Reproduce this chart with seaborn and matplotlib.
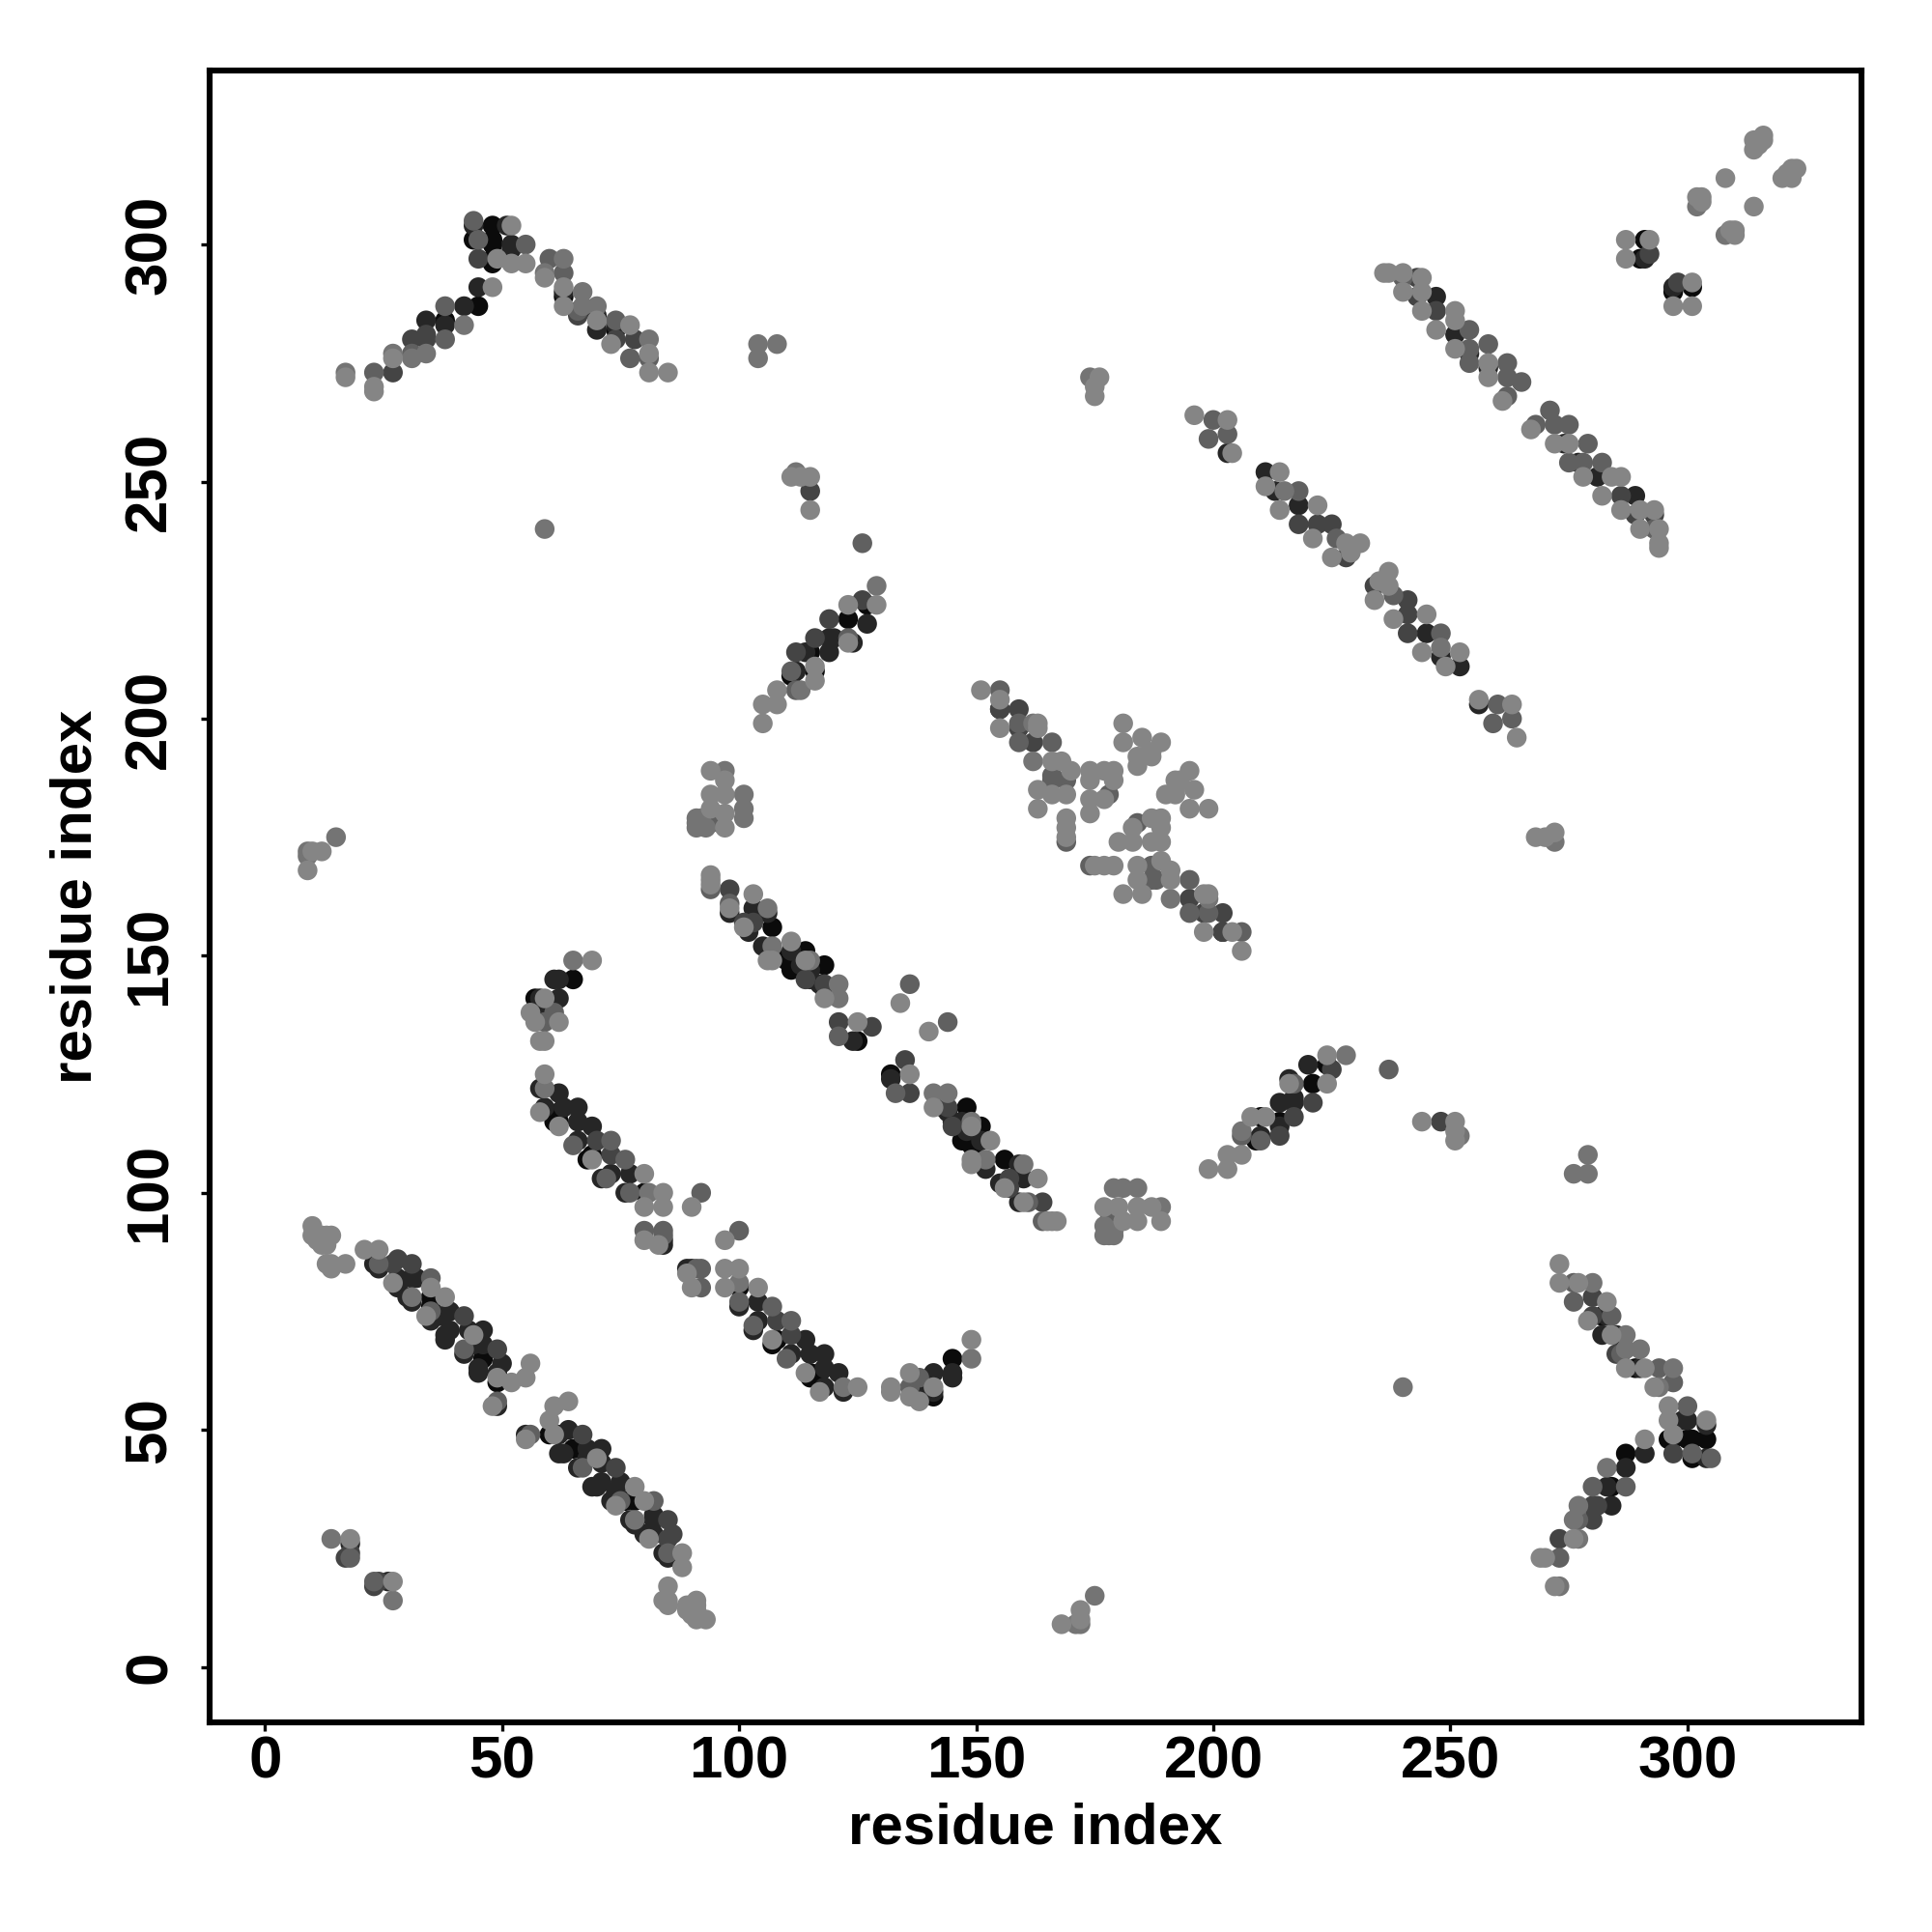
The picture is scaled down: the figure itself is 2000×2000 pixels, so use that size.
import numpy as np
import pandas as pd
import matplotlib
matplotlib.use("Agg")
import matplotlib.pyplot as plt
import seaborn as sns

# residue contact pairs (first < second); the map is symmetric, grouped by shade
light_pairs = [(10,93),(10,91),(11,90),(12,91),(13,91),(13,90),(12,89),(13,89),(14,91),(13,85),(14,84),(14,85),(17,85),
 (21,88),(24,88),(27,81),(35,80),(38,78),(34,74),(44,70),(49,61),(52,60),(55,61),(56,64),(48,55),(18,27),
 (59,125),(58,117),(62,114),(69,107),(80,104),(84,100),(80,97),(84,97),(90,97),(83,89),(80,90),
 (69,149),(59,141),(56,138),(62,136),(57,136),(59,132),(58,132),
 (94,167),(94,165),(94,166),(103,163),(98,160),(101,156),(106,149),(107,149),(111,153),(114,149),(118,141),(125,136),(134,140),
 (151,206),(155,204),(155,198),(163,199),(163,198),(166,191),(168,191),(170,189),(166,184),(163,185),(163,181),(169,184),
 (169,179),(169,177),(169,175),(174,189),(174,187),(177,189),(179,189),(179,187),(174,183),(177,183),(174,180),
 (181,199),(181,195),(185,196),(189,195),(184,192),(187,193),(184,190),(185,192),(187,192),
 (105,199),(105,203),(108,203),(108,206),(116,211),(116,208),(123,216),(123,224),(129,224),
 (94,189),(97,187),(94,184),(97,184),(94,181),(97,180),(97,177),
 (9,168),(12,172),(10,172),(111,251),(113,251),(115,251),(115,244),(176,272),(175,268),(175,270),
 (85,273),(81,273),(81,277),(77,283),(73,279),(70,284),(63,287),(63,291),(59,293),(55,296),(52,296),(52,304),(49,297),(48,291),
 (27,276),(23,269),(23,270),(17,272),
 (236,294),(237,294),(240,294),(244,293),(240,290),(244,290),(244,286),(247,282),(251,286),(251,284),(251,278),(258,275),(258,272),(261,267),
 (196,264),(203,263),(204,256),(214,252),(211,249),(214,244),(222,245),(221,238),(228,237),(225,234),(231,237),(229,235),
 (287,301),(287,297),(292,301),(308,314),(302,310),(303,310),(303,309),(314,320),(315,321),(314,322),(316,322),(316,323),(315,322)]

midlight_pairs = [(14,27),(31,78),(59,122),(81,100),(65,149),(106,160),(107,152),(115,149),(121,144),(121,141),
 (162,191),(162,199),(113,206),(129,228),(15,175),(9,172),(9,171),(104,279),(108,279),(104,276),(112,252),(174,272),(59,240),
 (91,179),(91,177),(92,179),(91,178),(93,177),(101,184),(101,181),(101,179),(97,189),
 (31,276),(81,280),(70,287),(67,287),(67,290),(63,297),(59,294),(42,283),(34,277),(27,277),(17,273),
 (215,248),(302,308)]

mid_pairs = [(24,85),(35,82),(35,75),(42,67),(49,56),(18,23),(65,110),(73,111),(76,107),(72,103),(77,100),(92,100),(80,92),(84,92),(84,91),
 (61,138),(59,136),(94,164),(98,161),(121,133),(136,144),(155,206),(159,199),(159,195),(166,195),(169,174),(166,188),(169,187),(166,187),(178,184),
 (112,206),(111,210),(123,217),(126,237),(94,178),
 (81,276),(77,276),(74,284),(66,286),(63,294),(60,297),(55,300),(45,301),(44,305),(38,280),(38,287),(31,277),(23,273),
 (240,293),(254,282),(254,278),(254,275),(258,279),(262,275),(262,272),(265,271),(262,268),(200,263),(199,259),(203,260),(218,248),(226,238)]

middark_pairs = [(28,86),(31,85),(42,74),(49,67),(17,23),(18,24),(70,111),(73,108),(98,164),(101,157),(103,157),(118,144),(114,145),(121,136),(128,135),
 (155,202),(159,202),(159,198),(162,195),(112,214),(116,217),(119,221),(126,225),(115,248),(96,178),
 (78,280),(74,280),(45,297),(34,281),(31,280),(27,273),(243,293),(243,289),(247,286),(228,234),(225,241),(218,241),(222,241),(292,298),
 (27,85),(66,285),(34,280)]

dark_pairs = [(23,85),(28,82),(31,82),(32,82),(30,78),(39,75),(39,71),(38,70),(43,71),(46,71),(46,68),(50,64),(45,63),(49,55),(18,26),
 (58,122),(62,121),(59,118),(63,118),(66,118),(66,115),(69,114),(66,111),(73,104),(77,104),(76,100),(84,90),(84,89),
 (62,145),(61,145),(62,141),(58,141),(58,138),
 (103,160),(98,159),(105,152),(111,151),(113,148),(117,144),(124,132),(115,145),(106,159),(102,156),
 (155,202),(112,210),(119,214),(119,217),(124,216),(127,220),
 (74,283),(70,282),(70,285),(63,290),(52,300),(51,304),(42,287),(34,284),(44,304),(45,291),
 (247,289),(251,281),(254,277),(258,274),(203,256),(218,245),(213,248),(211,252),(291,297),
 (37,74),(44,68),(49,62),(45,62),(42,66),(38,69),(35,73),(31,77),(28,80),(24,84),(71,103),(115,147),(102,155),
 (38,283),(52,299),(114,214),(120,217)]

black_pairs = [(35,78),(46,65),(49,60),(62,115),(69,108),(80,100),(65,145),(57,141),
 (107,156),(118,148),(111,148),(114,151),(110,149),(125,132),(116,210),(115,214),(123,221),(127,224),
 (48,297),(48,301),(48,304),(44,301),(45,287),(38,284),(291,301),(290,297),
 (35,76),(61,115),(62,117),(68,107),(118,143),(111,147),(107,151),(74,282),(63,289),(48,296),(48,300),(111,209)]

shade_names = ["black", "dark", "middark", "mid", "midlight", "light"]
shade_colors = ["#0b0b0b", "#262626", "#444444", "#606060", "#747474", "#858585"]
groups = [black_pairs, dark_pairs, middark_pairs, mid_pairs, midlight_pairs, light_pairs]

rows = []
for name, pairs in zip(shade_names, groups):
    for a, b in pairs:
        rows.append((a, b, name))
        rows.append((b, a, name))
df = pd.DataFrame(rows, columns=["first", "second", "shade"]).drop_duplicates()

sns.set_theme(style="white")
plt.rcParams["font.family"] = ["Liberation Sans", "DejaVu Sans"]
plt.rcParams["font.weight"] = "bold"

fig = plt.figure(figsize=(10, 10), dpi=200, facecolor="white")
ax = fig.add_axes([0.1084, 0.1085, 0.8551, 0.855])

sns.scatterplot(data=df, x="first", y="second", hue="shade", hue_order=shade_names,
                palette=dict(zip(shade_names, shade_colors)), s=54, linewidth=0,
                legend=False, ax=ax, clip_on=True)

ax.set_xlim(-11.7, 336.7)
ax.set_ylim(-11.7, 336.7)
ax.set_xticks([0, 50, 100, 150, 200, 250, 300])
ax.set_yticks([0, 50, 100, 150, 200, 250, 300])
ax.tick_params(axis="x", which="major", bottom=True, length=3.4, width=1.2,
               color="black", labelcolor="black", labelsize=22.3, pad=1.6)
ax.tick_params(axis="y", which="major", left=True, length=3.4, width=1.2,
               color="black", labelcolor="black", labelsize=22.3, pad=8.2)
for lab in ax.get_yticklabels():
    lab.set_rotation(90)
    lab.set_va("center")
    lab.set_fontweight("bold")
for lab in ax.get_xticklabels():
    lab.set_fontweight("bold")
for sp in ax.spines.values():
    sp.set_visible(True)
    sp.set_linewidth(2.2)
    sp.set_color("black")
ax.set_xlabel("residue index", fontsize=21.6, fontweight="bold", color="black", va="center")
ax.set_ylabel("residue index", fontsize=21.6, fontweight="bold", color="black", va="center")
ax.xaxis.set_label_coords(0.5, -0.0645)
ax.yaxis.set_label_coords(-0.0805, 0.5)

fig.savefig("out.png", dpi=200, facecolor="white")
